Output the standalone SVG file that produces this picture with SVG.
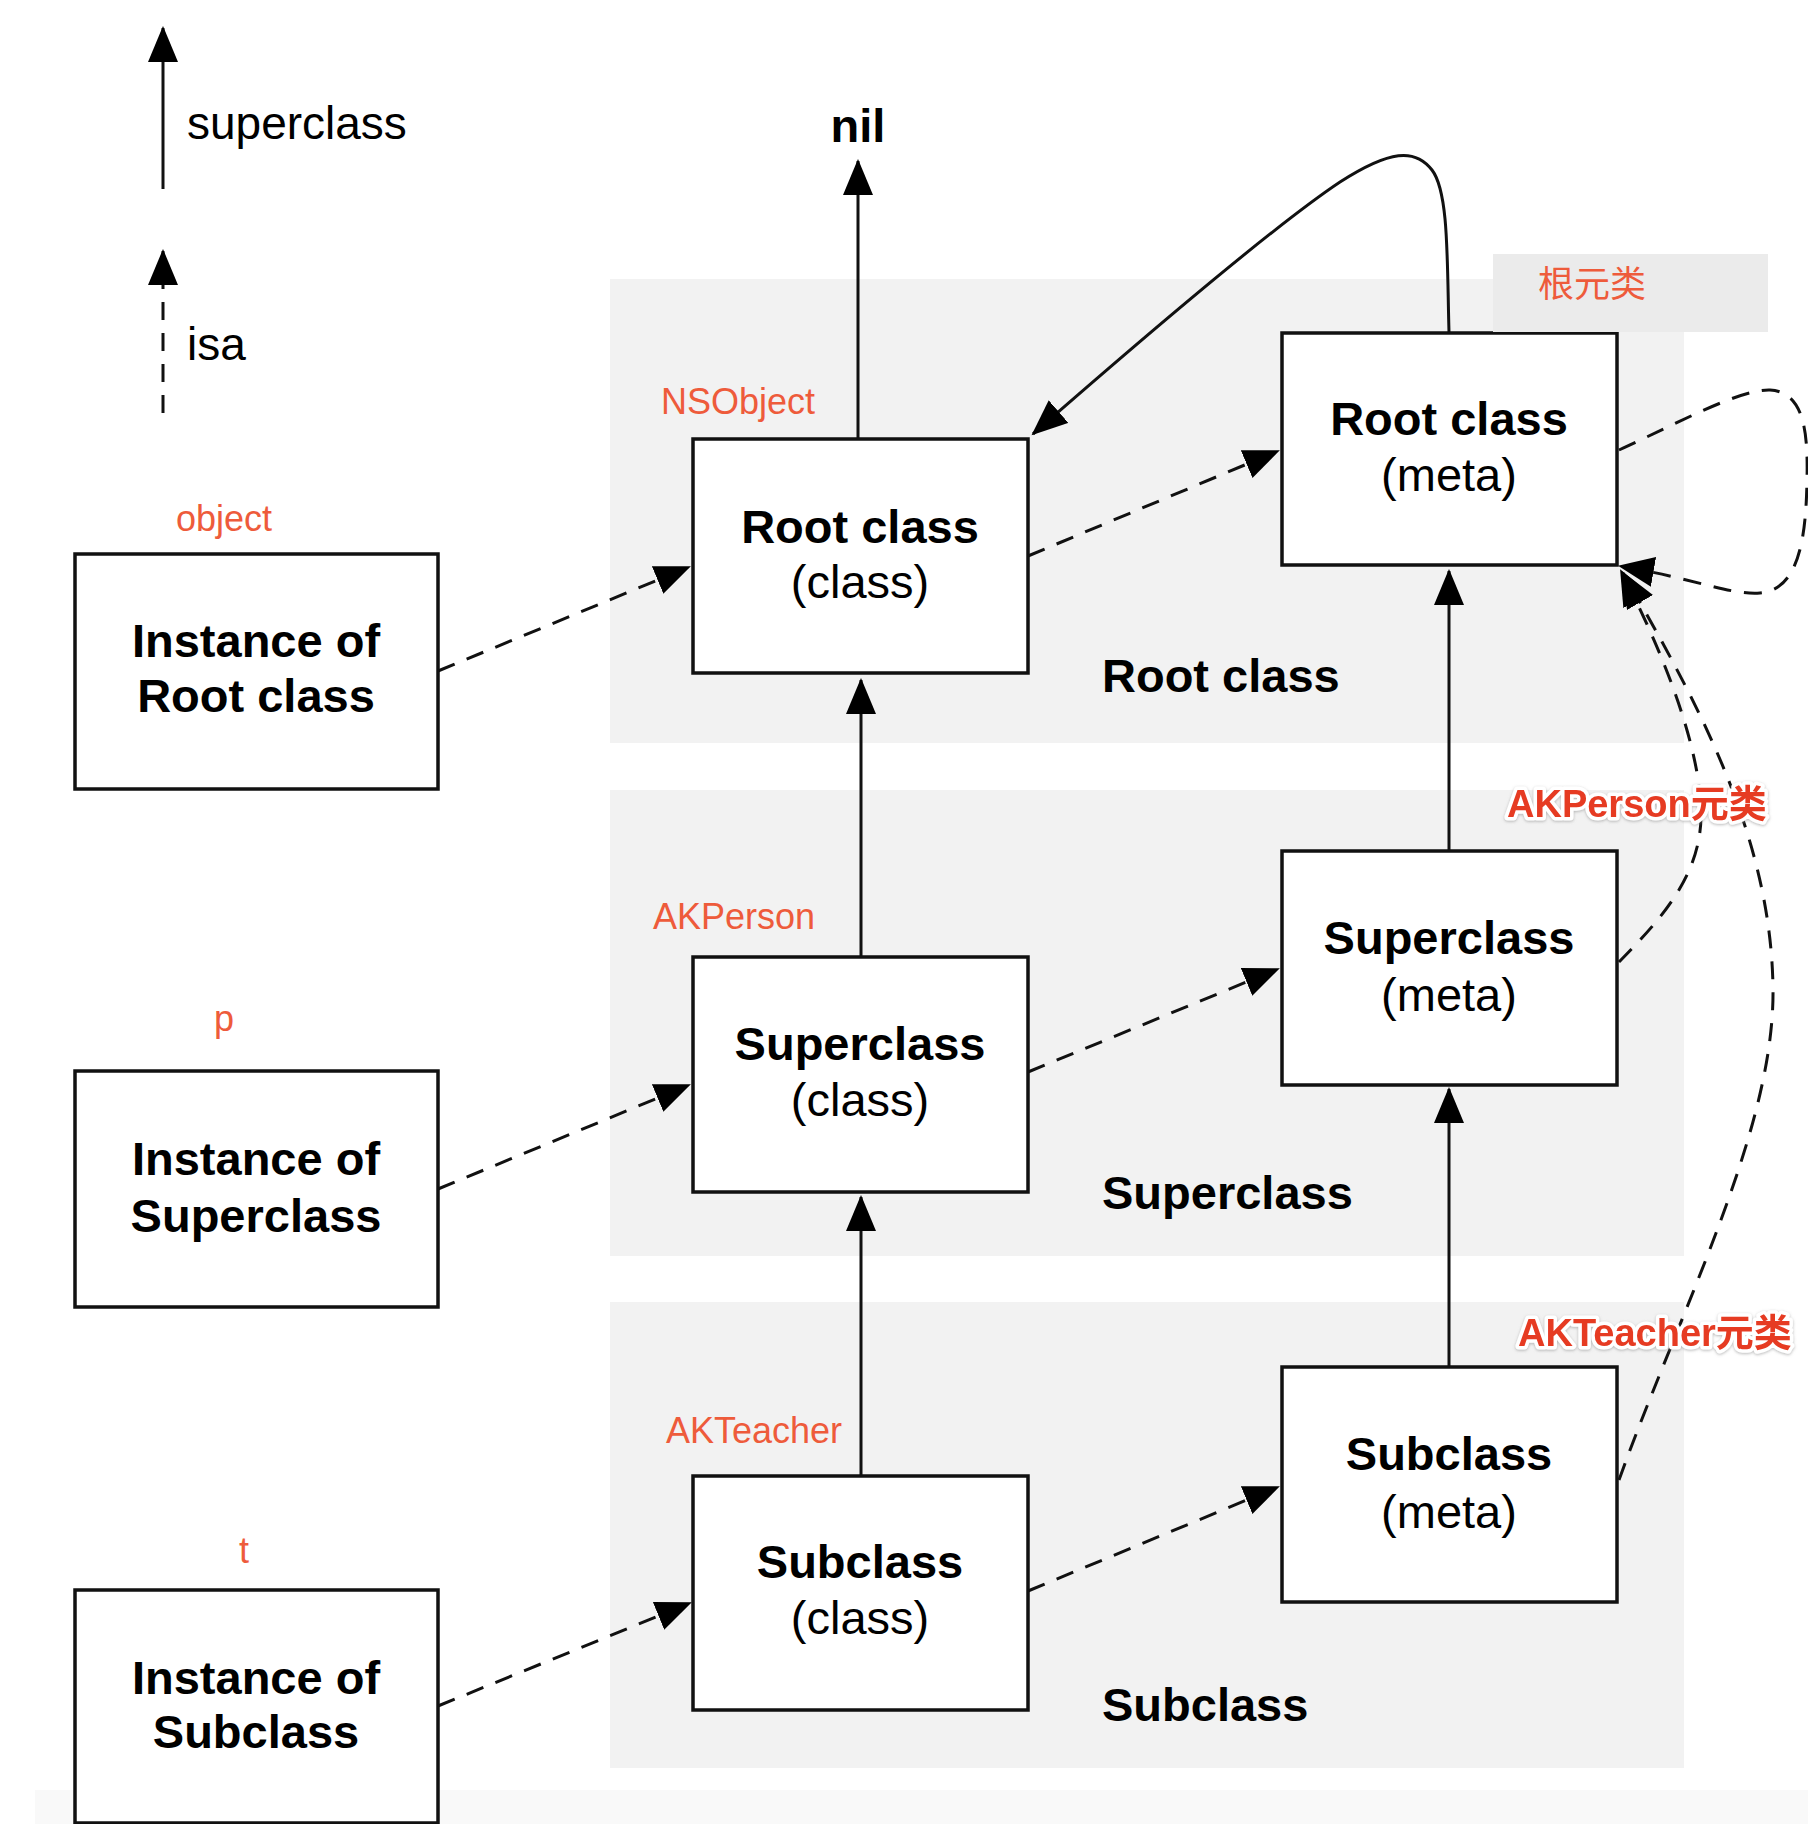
<svg xmlns="http://www.w3.org/2000/svg" width="1808" height="1824" viewBox="0 0 1808 1824">
<style>
  .band { fill: #f2f2f2; }
  .box { fill: #ffffff; stroke: #111; stroke-width: 3.5; }
  .bt { font-family: "Liberation Sans", Arial, sans-serif; font-size: 47px; font-weight: bold; fill: #000; text-anchor: middle; }
  .rt { font-family: "Liberation Sans", Arial, sans-serif; font-size: 47px; fill: #000; text-anchor: middle; }
  .lbl { font-family: "Liberation Sans", Arial, sans-serif; font-size: 47px; font-weight: bold; fill: #000; }
  .leg { font-family: "Liberation Sans", Arial, sans-serif; font-size: 46px; fill: #000; }
  .or { font-family: "Liberation Sans", Arial, "Noto Sans CJK SC", sans-serif; font-size: 36px; fill: #EE5B3B; }
  .red { font-family: "Liberation Sans", Arial, "Noto Sans CJK SC", sans-serif; font-size: 38px; font-weight: bold; fill: #E63B24; stroke: #ffffff; stroke-width: 7; stroke-linejoin: round; paint-order: stroke; }
  .sup { fill: none; stroke: #111; stroke-width: 3; marker-end: url(#ah); }
  .isa { fill: none; stroke: #111; stroke-width: 3; stroke-dasharray: 18 13; marker-end: url(#ah); }
</style>
<defs>
  <marker id="ah" markerUnits="userSpaceOnUse" markerWidth="40" markerHeight="32" refX="34" refY="15" orient="auto">
    <path d="M0,0 L36,15 L0,30 z" fill="#000"/>
  </marker>
  <filter id="sh" x="-10%" y="-30%" width="120%" height="160%">
    <feDropShadow dx="0" dy="1" stdDeviation="1.5" flood-color="#888" flood-opacity="0.6"/>
  </filter>
</defs>
<rect x="0" y="0" width="1808" height="1824" fill="#ffffff"/>
<rect x="35" y="1790" width="1773" height="34" fill="#f9f9f9"/>

<g id="bands">
  <rect class="band" x="610" y="279" width="1074" height="464"/>
  <rect class="band" x="610" y="790" width="1074" height="466"/>
  <rect class="band" x="610" y="1302" width="1074" height="466"/>
  <text class="lbl" x="1102" y="692">Root class</text>
  <text class="lbl" x="1102" y="1209">Superclass</text>
  <text class="lbl" x="1102" y="1721">Subclass</text>
</g>

<g id="legend">
  <line class="sup" x1="163" y1="189" x2="163" y2="28"/>
  <text class="leg" x="187" y="139">superclass</text>
  <line class="isa" x1="163" y1="413" x2="163" y2="251"/>
  <text class="leg" x="187" y="360">isa</text>
</g>

<g id="connectors">
  <line class="sup" x1="858" y1="439" x2="858" y2="161"/>
  <line class="sup" x1="861" y1="957" x2="861" y2="680"/>
  <line class="sup" x1="861" y1="1476" x2="861" y2="1197"/>
  <line class="sup" x1="1449" y1="851" x2="1449" y2="571"/>
  <line class="sup" x1="1449" y1="1367" x2="1449" y2="1089"/>
  <path class="sup" d="M1449,332 C1447,262 1449,192 1432,170 C1415,148 1390,150 1340,182 C1280,222 1160,323 1033,434"/>
  <line class="isa" x1="438" y1="671" x2="689" y2="567"/>
  <line class="isa" x1="438" y1="1189" x2="689" y2="1085"/>
  <line class="isa" x1="438" y1="1706" x2="690" y2="1603"/>
  <line class="isa" x1="1028" y1="556" x2="1278" y2="451"/>
  <line class="isa" x1="1028" y1="1072" x2="1278" y2="969"/>
  <line class="isa" x1="1028" y1="1591" x2="1278" y2="1487"/>
  <path class="isa" d="M1619,450 C1680,422 1740,389 1770,390 C1805,392 1808,434 1807,480 C1806,535 1800,590 1760,593 C1730,595 1700,580 1620,566"/>
  <path class="isa" d="M1619,962 C1660,920 1700,877 1701,817 C1702,747 1660,646 1621,571"/>
  <path class="isa" d="M1619,1480 C1680,1310 1775,1130 1773,988 C1771,838 1700,706 1623,573"/>
</g>

<g id="nil">
  <text class="bt" x="858" y="142">nil</text>
</g>

<g id="inst-root">
  <rect class="box" x="75" y="554" width="363" height="235"/>
  <text class="bt" x="256" y="657">Instance of</text>
  <text class="bt" x="256" y="712">Root class</text>
  <text class="or" x="224" y="531" text-anchor="middle">object</text>
</g>
<g id="inst-super">
  <rect class="box" x="75" y="1071" width="363" height="236"/>
  <text class="bt" x="256" y="1175">Instance of</text>
  <text class="bt" x="256" y="1232">Superclass</text>
  <text class="or" x="224" y="1031" text-anchor="middle">p</text>
</g>
<g id="inst-sub">
  <rect class="box" x="75" y="1590" width="363" height="233"/>
  <text class="bt" x="256" y="1694">Instance of</text>
  <text class="bt" x="256" y="1748">Subclass</text>
  <text class="or" x="244" y="1563" text-anchor="middle">t</text>
</g>

<g id="root-class">
  <rect class="box" x="693" y="439" width="335" height="234"/>
  <text class="bt" x="860" y="543">Root class</text>
  <text class="rt" x="860" y="598">(class)</text>
  <text class="or" x="661" y="414">NSObject</text>
</g>
<g id="super-class">
  <rect class="box" x="693" y="957" width="335" height="235"/>
  <text class="bt" x="860" y="1060">Superclass</text>
  <text class="rt" x="860" y="1116">(class)</text>
  <text class="or" x="653" y="929">AKPerson</text>
</g>
<g id="sub-class">
  <rect class="box" x="693" y="1476" width="335" height="234"/>
  <text class="bt" x="860" y="1578">Subclass</text>
  <text class="rt" x="860" y="1634">(class)</text>
  <text class="or" x="666" y="1443">AKTeacher</text>
</g>

<g id="root-meta">
  <rect class="box" x="1282" y="333" width="335" height="232"/>
  <text class="bt" x="1449" y="435">Root class</text>
  <text class="rt" x="1449" y="491">(meta)</text>
</g>
<g id="root-meta-label">
  <rect x="1493" y="254" width="275" height="78" fill="#ebebeb"/>
  <text class="or" x="1538" y="297">根元类</text>
</g>
<g id="super-meta">
  <rect class="box" x="1282" y="851" width="335" height="234"/>
  <text class="bt" x="1449" y="954">Superclass</text>
  <text class="rt" x="1449" y="1011">(meta)</text>
</g>
<g id="sub-meta">
  <rect class="box" x="1282" y="1367" width="335" height="235"/>
  <text class="bt" x="1449" y="1470">Subclass</text>
  <text class="rt" x="1449" y="1528">(meta)</text>
</g>

<g id="red-labels" filter="url(#sh)">
  <text class="red" x="1507" y="817">AKPerson元类</text>
  <text class="red" x="1518" y="1346">AKTeacher元类</text>
</g>
</svg>
